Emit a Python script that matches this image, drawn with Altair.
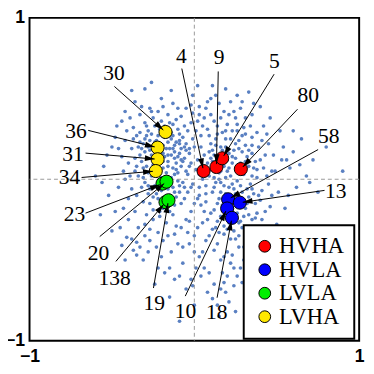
import math
import altair as alt
import pandas as pd

# ---------------- background cloud ----------------
CLOUD_PTS = [
    (-0.31,0.22),(-0.27,0.18),(-0.22,0.27),(-0.19,0.21),(-0.14,0.25),(-0.12,0.17),(-0.25,0.12),(-0.29,0.08),
    (-0.33,0.15),(-0.18,0.14),(-0.16,0.08),(-0.11,0.10),(-0.08,0.19),(-0.06,0.13),(-0.21,0.04),(-0.26,0.02),
    (-0.30,-0.02),(-0.14,0.01),(-0.10,0.04),(-0.07,-0.02),(-0.13,-0.05),(-0.20,-0.07),(-0.24,-0.04),(-0.28,-0.09),
    (-0.17,0.30),(-0.24,0.33),(-0.13,0.34),(-0.09,0.28),(-0.05,0.22),(-0.35,0.27),(-0.38,0.19),(-0.36,0.05),
    (-0.40,0.10),(-0.32,-0.05),(-0.22,-0.12),(-0.15,-0.10),(-0.09,-0.08),(-0.05,0.05),(-0.03,0.16),(-0.11,0.23),
    (-0.20,0.36),(-0.28,0.30),(-0.23,0.20),(-0.15,0.19),(-0.19,0.11),(-0.27,0.24),(-0.32,0.11),(-0.12,0.13),
    (-0.08,0.08),(-0.17,0.04),(-0.23,0.08),(-0.30,0.17),(-0.34,0.20),(-0.26,0.15),(-0.14,0.29),(-0.10,0.31),
    (-0.07,0.26),(-0.04,0.30),(-0.18,0.26),(-0.21,0.31),(-0.25,0.38),(-0.16,0.40),(-0.11,0.37),(-0.30,0.35),
    (-0.37,0.32),(-0.42,0.24),(-0.44,0.14),(-0.39,0.02),(-0.35,-0.10),(-0.27,-0.15),(-0.19,-0.18),(-0.12,-0.16),
    (-0.06,-0.12),(-0.02,-0.05),(-0.03,0.08),(-0.13,0.07),(-0.24,0.17),(-0.29,0.13),(-0.16,0.15),(-0.09,0.16),
    (-0.20,0.18),(-0.12,0.21),(-0.26,0.06),(-0.18,-0.02),(-0.10,-0.01),
    (-0.38,-0.37),(-0.35,-0.39),(-0.41,-0.36),(-0.33,-0.42),(-0.30,-0.28),(-0.25,-0.25),(-0.22,-0.33),(-0.17,-0.27),
    (-0.13,-0.22),(-0.08,-0.30),(-0.05,-0.25),(-0.10,-0.40),(-0.14,-0.45),(-0.20,-0.48),(-0.27,-0.38),(-0.31,-0.50),
    (-0.07,-0.52),(-0.03,-0.40),(-0.18,-0.58),(-0.24,-0.65),(-0.12,-0.62),(-0.05,-0.68),(-0.15,-0.73),(-0.09,-0.88),
    (-0.45,-0.30),(-0.48,-0.20),(-0.52,-0.10),(-0.46,-0.05),(-0.55,0.08),(-0.50,0.20),(-0.47,0.33),(-0.42,0.42),
    (-0.36,0.48),(-0.30,0.56),(-0.20,0.50),(-0.13,0.47),(-0.05,0.44),(-0.60,0.02),(-0.57,-0.22),(-0.42,-0.50),
    (-0.29,0.27),(-0.24,0.23),(-0.21,0.15),(-0.17,0.19),(-0.13,0.27),(-0.10,0.14),(-0.07,0.11),(-0.05,0.18),
    (-0.28,0.04),(-0.31,0.07),(-0.34,0.02),(-0.22,-0.02),(-0.16,-0.06),(-0.11,-0.11),(-0.08,-0.15),(-0.25,-0.19),
    (-0.31,-0.14),(-0.36,-0.20),(-0.40,-0.12),(-0.43,0.05),(-0.41,0.30),(-0.33,0.40),(-0.27,0.44),(-0.22,0.42),
    (-0.15,0.35),(-0.08,0.39),(-0.02,0.35),(-0.01,0.41),(-0.04,0.03),(-0.06,-0.05),(-0.15,-0.20),(-0.21,-0.23),
    (-0.27,-0.31),(-0.34,-0.30),(-0.40,-0.25),(-0.16,-0.35),(-0.11,-0.29),(-0.04,-0.33),(-0.23,-0.42),(-0.37,-0.44),
    (-0.44,-0.41),(-0.50,-0.32),(-0.53,0.15),(-0.48,0.26),(-0.56,-0.02),(-0.38,0.55),(-0.26,0.60),(-0.14,0.55),
    (-0.33,0.23),(-0.19,0.07),(-0.12,0.03),(-0.09,0.22),(-0.06,0.33),(-0.28,-0.04),(-0.36,0.13),
    (-0.30,0.25),(-0.26,0.28),(-0.23,0.24),(-0.20,0.29),(-0.16,0.23),(-0.13,0.19),(-0.09,0.24),(-0.06,0.20),
    (-0.28,0.20),(-0.25,0.09),(-0.22,0.12),(-0.19,0.16),(-0.16,0.11),(-0.14,0.15),(-0.11,0.06),(-0.08,0.12),
    (-0.31,0.01),(-0.27,-0.06),(-0.23,-0.09),(-0.19,-0.04),(-0.15,-0.02),(-0.12,-0.08),(-0.09,-0.04),(-0.33,0.29),
    (-0.29,0.33),(-0.22,0.34),(-0.18,0.33),(-0.15,0.27),(-0.35,0.08),(-0.37,0.25),(-0.32,0.19),(-0.20,0.01),
    (-0.17,-0.13),(-0.13,-0.12),(-0.25,-0.11),(-0.29,-0.22),(-0.21,-0.20),(-0.26,0.42),(-0.19,0.45),(-0.10,0.44),
    (-0.32,0.45),(-0.44,0.36),(-0.39,0.38),(-0.46,0.19),(-0.42,0.00),(-0.38,-0.06),(-0.43,-0.18),(-0.30,-0.35),
    (-0.19,-0.38),(-0.12,-0.34),(-0.07,-0.42),(-0.15,-0.55),(-0.22,-0.55),(-0.09,-0.60),(-0.02,-0.62),(-0.28,-0.45),
    (-0.35,-0.47),
    (0.02,0.12),(0.01,0.30),(-0.01,0.25),(0.03,-0.05),(0.00,-0.15),(0.02,-0.30),(-0.02,-0.20),(0.04,0.20),
    (0.05,-0.45),(0.01,-0.55),(0.06,0.38),(0.03,0.45),(-0.01,0.52),(0.04,-0.60),(0.08,-0.70),(0.00,-0.78),
    (0.01,0.06),(0.02,-0.12),(-0.02,0.10),(0.04,0.27),(0.02,0.36),(0.05,-0.27),(-0.03,-0.26),(0.07,-0.38),
    (0.00,-0.45),(0.06,0.15),(0.04,-0.16),(-0.03,0.19),
    (0.00,0.20),(0.03,0.40),(0.07,0.44),(0.10,0.40),(0.05,0.33),(-0.02,0.46),(0.16,0.38),(0.21,0.40),
    (0.10,0.50),(0.02,0.58),(0.00,-0.35),(0.03,-0.48),(-0.01,-0.66),(0.06,-0.55),
    (0.08,0.10),(0.12,0.15),(0.16,0.05),(0.20,0.12),(0.24,0.18),(0.28,0.10),(0.32,0.14),(0.36,0.07),
    (0.40,0.12),(0.10,0.22),(0.14,0.28),(0.19,0.25),(0.23,0.30),(0.27,0.24),(0.31,0.21),(0.35,0.26),
    (0.09,0.02),(0.13,-0.02),(0.18,-0.04),(0.22,0.02),(0.26,-0.01),(0.30,0.03),(0.34,-0.03),(0.38,0.01),
    (0.11,-0.08),(0.15,-0.12),(0.19,-0.09),(0.24,-0.06),(0.29,-0.08),(0.33,-0.11),(0.37,-0.15),(0.41,-0.07),
    (0.07,-0.14),(0.12,-0.19),(0.16,-0.23),(0.21,-0.27),(0.26,-0.21),(0.31,-0.18),(0.35,-0.25),(0.08,-0.25),
    (0.13,-0.30),(0.18,-0.34),(0.24,-0.32),(0.29,-0.30),(0.06,0.07),(0.10,0.06),(0.14,0.09),(0.17,0.18),
    (0.21,0.07),(0.25,0.13),(0.29,0.17),(0.33,0.08),(0.16,0.20),(0.20,0.34),(0.12,0.36),(0.25,0.38),
    (0.30,0.32),(0.08,0.31),(0.18,0.42),(0.22,0.48),(0.28,0.44),(0.35,0.40),(0.42,0.33),(0.45,0.22),
    (0.48,0.15),(0.44,0.02),(0.47,-0.10),(0.43,-0.20),(0.39,-0.30),(0.33,-0.38),(0.27,-0.42),(0.20,-0.45),
    (0.14,-0.40),(0.09,-0.35),(0.22,-0.52),(0.17,-0.58),(0.26,-0.60),(0.19,-0.70),(0.14,-0.78),(0.25,-0.82),
    (0.12,-0.65),(0.30,-0.50),(0.11,0.58),(0.19,0.56),(0.08,0.48),(0.54,0.20),(0.58,0.07),(0.62,-0.05),
    (0.55,-0.18),(0.52,0.30),(0.65,0.25),(0.90,0.05),(0.72,0.12),(0.50,-0.28),(0.40,0.45),
    (0.05,0.00),(0.03,0.03),(-0.01,-0.03),(0.07,-0.04),(0.15,0.00),(0.18,0.08),(0.23,0.10),(0.27,0.05),
    (0.21,-0.15),(0.26,-0.14),(0.17,-0.16),(0.14,0.12),(0.11,0.18),(-0.04,-0.08),(0.06,-0.20),(0.03,-0.10),
    (0.09,0.17),(0.13,0.21),(0.17,0.11),(0.21,0.16),(0.25,0.22),(0.29,0.27),(0.33,0.18),(0.37,0.11),
    (0.39,0.20),(0.11,0.11),(0.15,0.04),(0.19,0.01),(0.23,-0.03),(0.28,-0.04),(0.32,-0.06),(0.36,-0.09),
    (0.40,-0.13),(0.12,-0.05),(0.16,-0.08),(0.20,-0.20),(0.24,-0.25),(0.28,-0.26),(0.33,-0.22),(0.38,-0.21),
    (0.10,-0.21),(0.14,-0.26),(0.18,-0.29),(0.22,-0.37),(0.27,-0.35),(0.31,-0.34),(0.11,-0.31),(0.07,-0.09),
    (0.09,0.27),(0.14,0.33),(0.17,0.29),(0.22,0.25),(0.26,0.30),(0.31,0.38),(0.24,0.42),(0.15,0.47),
    (0.13,0.52),(0.26,0.52),(0.34,0.33),(0.38,0.29),(0.43,0.15),(0.42,0.07),(0.45,-0.03),(0.41,-0.25),
    (0.36,-0.33),(0.30,-0.42),(0.23,-0.47),(0.16,-0.50),(0.20,-0.60),(0.24,-0.66),(0.18,-0.64),(0.28,-0.55),
    (0.15,-0.85),(0.09,-0.58),(0.34,-0.45),(0.49,0.05),(0.51,-0.08),(0.56,0.12),(0.46,0.38),(0.60,0.30),
    (0.68,0.02),(0.75,-0.08),(0.22,-0.10),(0.27,0.08),(0.30,-0.13),(0.35,0.02),(0.19,0.20),(0.08,0.04),
    (0.10,0.13),(0.13,0.08),(0.17,0.14),(0.20,0.05),(0.23,0.14),(0.27,0.19),(0.31,0.11),(0.35,0.16),
    (0.38,0.06),(0.12,0.01),(0.16,-0.02),(0.21,-0.05),(0.25,-0.09),(0.28,-0.12),(0.32,-0.15),(0.35,-0.06),
    (0.39,-0.10),(0.14,-0.15),(0.18,-0.19),(0.23,-0.18),(0.27,-0.27),(0.30,-0.23),(0.34,-0.30),(0.37,-0.24),
    (0.15,-0.33),(0.20,-0.31),(0.25,-0.37),(0.12,-0.44),(0.18,-0.48),(0.24,-0.55),(0.29,-0.64),(0.21,-0.76),
    (0.16,-0.68),(0.11,-0.74),(0.31,0.28),(0.26,0.34),(0.19,0.30),(0.13,0.25),(0.35,0.21),(0.41,0.24),
    (0.44,0.28),(0.47,0.05),(0.46,-0.17),(0.42,-0.33),(0.38,-0.40),(0.53,0.12),(0.57,-0.10),(0.60,0.17),
    (0.64,0.09),(0.70,-0.02),(0.80,0.20),(0.36,0.47),(0.29,0.48),(0.33,0.54),
]

# ---------------- highlighted items ----------------
IDS    = ["4", "9", "5", "80", "58", "13", "10", "18", "23", "20", "138", "19", "30", "36", "31", "34"]
GROUP  = ["HVHA"] * 4 + ["HVLA"] * 4 + ["LVLA"] * 4 + ["LVHA"] * 4
PX     = [0.056, 0.134, 0.169, 0.282, 0.205, 0.276, 0.199, 0.228,
          -0.193, -0.169, -0.175, -0.157, -0.175, -0.223, -0.223, -0.234]
PY     = [0.051, 0.076, 0.130, 0.063, -0.124, -0.145, -0.181, -0.239,
          -0.027, -0.015, -0.142, -0.130, 0.293, 0.196, 0.124, 0.051]
# label centres
LX     = [-0.078, 0.150, 0.485, 0.691, 0.816, 0.858, -0.053, 0.136,
          -0.727, -0.582, -0.484, -0.243, -0.488, -0.718, -0.736, -0.757]
LY     = [0.764, 0.758, 0.731, 0.523, 0.269, -0.076, -0.819, -0.825,
          -0.215, -0.456, -0.610, -0.767, 0.656, 0.299, 0.154, 0.015]
# where each leader line starts
SX0    = [-0.076, 0.145, 0.484, 0.626, 0.751, 0.790, -0.055, 0.138,
          -0.660, -0.574, -0.476, -0.248, -0.485, -0.644, -0.660, -0.684]
SY0    = [0.686, 0.668, 0.651, 0.434, 0.184, -0.069, -0.724, -0.734,
          -0.210, -0.355, -0.509, -0.674, 0.575, 0.303, 0.162, 0.011]

GROUP_ORDER  = ["HVHA", "HVLA", "LVLA", "LVHA"]
GROUP_COLORS = ["#FF0000", "#0000FF", "#00EE00", "#FFE800"]
TICKS = [-1, 0, 1]

W, H = 337, 330
KX, KY = W / 2, H / 2
SERIF = "Liberation Serif"

cloud = pd.DataFrame({"x": [p[0] for p in CLOUD_PTS], "y": [p[1] for p in CLOUD_PTS]})
pts = pd.DataFrame({"id": IDS, "group": GROUP, "x": PX, "y": PY, "lx": LX, "ly": LY})

rows = []
for i in range(len(IDS)):
    dx = (PX[i] - SX0[i]) * KX
    dy = -(PY[i] - SY0[i]) * KY
    L = math.hypot(dx, dy)
    ux, uy = dx / L, dy / L
    tipx = PX[i] * KX - 3 * ux
    tipy = -PY[i] * KY - 3 * uy
    hx = tipx - 5 * ux
    hy = tipy - 5 * uy
    ang = math.degrees(math.atan2(ux, -uy)) % 360
    rows.append({"sx": SX0[i], "sy": SY0[i], "tx": tipx / KX, "ty": -tipy / KY,
                 "hx": hx / KX, "hy": -hy / KY, "ang": ang})
arrows = pd.DataFrame(rows)
zero = pd.DataFrame({"v": [0]})

xs = alt.Scale(domain=[-1, 1], nice=False, zero=False)
ys = alt.Scale(domain=[-1, 1], nice=False, zero=False)
xaxis = alt.Axis(values=TICKS, format="d", ticks=False, domain=False, grid=False, title=None,
                 labelFlush=False, labelOverlap=False, labelPadding=7)
yaxis = alt.Axis(values=TICKS, format="d", ticks=False, domain=False, grid=False, title=None,
                 labelOverlap=False, labelPadding=5)

base_cloud = alt.Chart(cloud).mark_circle(size=14, color="#5A80C2", opacity=1).encode(
    x=alt.X("x:Q", scale=xs, axis=xaxis),
    y=alt.Y("y:Q", scale=ys, axis=yaxis),
)

vline = alt.Chart(zero).mark_rule(color="#999999", strokeDash=[4, 3], strokeWidth=1).encode(x="v:Q")
hline = alt.Chart(zero).mark_rule(color="#999999", strokeDash=[4, 3], strokeWidth=1).encode(y="v:Q")

circles = alt.Chart(pts).mark_point(filled=True, shape="circle", size=180, stroke="black",
                                    strokeWidth=1, opacity=1).encode(
    x="x:Q", y="y:Q",
    fill=alt.Fill("group:N", scale=alt.Scale(domain=GROUP_ORDER, range=GROUP_COLORS),
                  legend=alt.Legend(title=None)),
)

lines = alt.Chart(arrows).mark_rule(color="black", strokeWidth=1).encode(
    x="sx:Q", y="sy:Q", x2="tx:Q", y2="ty:Q")

heads = alt.Chart(arrows).mark_point(shape="M0,-1L0.6,1L-0.6,1Z", filled=True, color="black",
                                     size=100, opacity=1).encode(
    x="hx:Q", y="hy:Q", angle=alt.Angle("ang:Q", scale=None))

labels = alt.Chart(pts).mark_text(font=SERIF, fontSize=22, color="black",
                                  align="center", baseline="middle").encode(
    x="lx:Q", y="ly:Q", text="id:N")

chart = alt.layer(base_cloud, vline, hline, circles, lines, heads, labels).properties(
    width=W, height=H,
    autosize=alt.AutoSizeParams(type="none"),
    padding={"left": 22, "top": 6, "right": 7, "bottom": 30},
).configure_view(
    stroke="black", strokeWidth=2
).configure_axis(
    labelFont="Liberation Sans", labelFontWeight="bold", labelFontSize=18, labelColor="black"
).configure_legend(
    orient="none", legendX=219, legendY=212,
    strokeColor="black", strokeWidth=2, fillColor="white", padding=10,
    labelFont=SERIF, labelFontSize=23, labelColor="black", labelOffset=3,
    symbolType="circle", symbolSize=144, symbolStrokeColor="black", symbolStrokeWidth=1,
    symbolOffset=0, rowPadding=0,
)

chart.save("out.html", embed_options={"renderer": "svg", "actions": False})
